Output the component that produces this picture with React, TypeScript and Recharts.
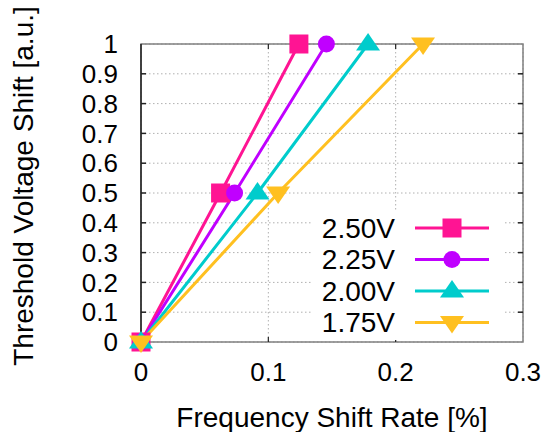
import React from 'react';
import { LineChart, Line, XAxis, YAxis, CartesianGrid, ReferenceArea, Legend } from 'recharts';

const thresholdShift = [0, 0.5, 1];
const freq250 = [0, 0.0625, 0.124];
const freq225 = [0, 0.0735, 0.1456];
const freq200 = [0, 0.0915, 0.1783];
const freq175 = [0, 0.1077, 0.2215];
const seriesNames = ['2.50V', '2.25V', '2.00V', '1.75V'];
const seriesFreqs = [freq250, freq225, freq200, freq175];
const seriesColors = ['#ff1493', '#c000ff', '#00cccc', '#ffc020'];
const seriesShapes = ['square', 'circle', 'triangle', 'triangleDown'];
const xTicks = [0, 0.1, 0.2, 0.3];
const yTicks = [0, 0.1, 0.2, 0.3, 0.4, 0.5, 0.6, 0.7, 0.8, 0.9, 1];
const xTickLabels = ['0', '0.1', '0.2', '0.3'];
const yTickLabels = ['0', '0.1', '0.2', '0.3', '0.4', '0.5', '0.6', '0.7', '0.8', '0.9', '1'];

const FONT = '"Liberation Sans", Arial, sans-serif';
const PLOT_TOP = 44;
const PLOT_BOTTOM = 342;
const PLOT_LEFT = 141;
const PLOT_RIGHT = 523;
const TICK_LEN = 5;

function Marker({ shape, cx, cy, color }: { shape: string; cx: number; cy: number; color: string }) {
  if (shape === 'square') return <rect x={cx - 9.5} y={cy - 9.5} width={19} height={19} fill={color} />;
  if (shape === 'circle') return <circle cx={cx} cy={cy} r={8.5} fill={color} />;
  if (shape === 'triangle')
    return <polygon points={`${cx},${cy - 11} ${cx - 12},${cy + 6.5} ${cx + 12},${cy + 6.5}`} fill={color} />;
  return <polygon points={`${cx},${cy + 11} ${cx - 12},${cy - 6.5} ${cx + 12},${cy - 6.5}`} fill={color} />;
}

const seriesData = seriesFreqs.map((fs) => fs.map((x, i) => ({ x, y: thresholdShift[i] })));

function XTick(props: any) {
  const { x, y, payload } = props;
  const v = payload.value as number;
  const label = xTickLabels[xTicks.indexOf(v)] ?? String(v);
  const inner = v !== xTicks[0] && v !== xTicks[xTicks.length - 1];
  return (
    <g>
      {inner && (
        <>
          <line x1={x} x2={x} y1={PLOT_BOTTOM} y2={PLOT_BOTTOM - TICK_LEN} stroke="#222" strokeWidth={1.2} />
          <line x1={x} x2={x} y1={PLOT_TOP} y2={PLOT_TOP + TICK_LEN} stroke="#222" strokeWidth={1.2} />
        </>
      )}
      <text x={x} y={y} dy="0.71em" textAnchor="middle" fontSize={26} fontFamily={FONT} fill="#000">
        {label}
      </text>
    </g>
  );
}

function YTick(props: any) {
  const { x, y, payload } = props;
  const v = payload.value as number;
  const label = yTickLabels[yTicks.indexOf(v)] ?? String(v);
  const inner = v !== yTicks[0] && v !== yTicks[yTicks.length - 1];
  return (
    <g>
      {inner && (
        <>
          <line x1={PLOT_LEFT} x2={PLOT_LEFT + TICK_LEN} y1={y} y2={y} stroke="#222" strokeWidth={1.5} />
          <line x1={PLOT_RIGHT} x2={PLOT_RIGHT - TICK_LEN} y1={y} y2={y} stroke="#222" strokeWidth={1.5} />
        </>
      )}
      <text x={x} y={y} dy="0.355em" textAnchor="end" fontSize={26} fontFamily={FONT} fill="#000">
        {label}
      </text>
    </g>
  );
}

function LegendBox() {
  const rows = [18, 49.5, 81, 112.5];
  return (
    <svg width={191} height={130} style={{ display: 'block' }}>
      {seriesNames.map((n, i) => (
        <g key={n}>
          <text x={83} y={rows[i]} textAnchor="end" dominantBaseline="central" fontSize={28} fontFamily={FONT} fill="#000">
            {n}
          </text>
          <line x1={103} x2={177} y1={rows[i]} y2={rows[i]} stroke={seriesColors[i]} strokeWidth={3} />
          <Marker shape={seriesShapes[i]} cx={140} cy={rows[i]} color={seriesColors[i]} />
        </g>
      ))}
    </svg>
  );
}

export default function App() {
  return (
    <div style={{ position: 'absolute', left: 0, top: 0, background: '#fff' }}>
      <LineChart width={546} height={432} margin={{ top: 44, right: 23, left: 0, bottom: 0 }}>
        <CartesianGrid stroke="#b0b0b0" strokeDasharray="1.5 2.5" />
        <ReferenceArea x1={0} x2={0.3} y1={0} y2={1} fill="none" stroke="#808080" strokeWidth={1.5} />
        <XAxis
          type="number"
          dataKey="x"
          domain={[0, 0.3]}
          ticks={xTicks}
          height={90}
          tickLine={false}
          axisLine={false}
          tickSize={0}
          tickMargin={21}
          tick={<XTick />}
          allowDuplicatedCategory={false}
          label={{
            content: () => (
              <text x={332} y={427} textAnchor="middle" fontSize={28} fontFamily={FONT} fill="#000">
                Frequency Shift Rate [%]
              </text>
            ),
          }}
        />
        <YAxis
          type="number"
          dataKey="y"
          domain={[0, 1]}
          ticks={yTicks}
          width={141}
          tickLine={false}
          axisLine={{ stroke: '#222', strokeWidth: 1.5 }}
          tickSize={0}
          tickMargin={23}
          interval={0}
          tick={<YTick />}
          label={{
            content: () => (
              <text
                x={0}
                y={0}
                transform="translate(33,186) rotate(-90)"
                textAnchor="middle"
                fontSize={28}
                fontFamily={FONT}
                fill="#000"
              >
                Threshold Voltage Shift [a.u.]
              </text>
            ),
          }}
        />
        {seriesNames.map((n, i) => (
          <Line
            key={n}
            name={n}
            data={seriesData[i]}
            dataKey="y"
            stroke={seriesColors[i]}
            strokeWidth={3}
            isAnimationActive={false}
            activeDot={false}
            dot={(p: any) => (
              <Marker key={`${n}-${p.index}`} shape={seriesShapes[i]} cx={p.cx} cy={p.cy} color={seriesColors[i]} />
            )}
          />
        ))}
        <Legend
          layout="vertical"
          align="center"
          verticalAlign="middle"
          content={() => <LegendBox />}
          wrapperStyle={{ left: 312, top: 210, width: 191, height: 130, background: '#fff' }}
        />
      </LineChart>
    </div>
  );
}
